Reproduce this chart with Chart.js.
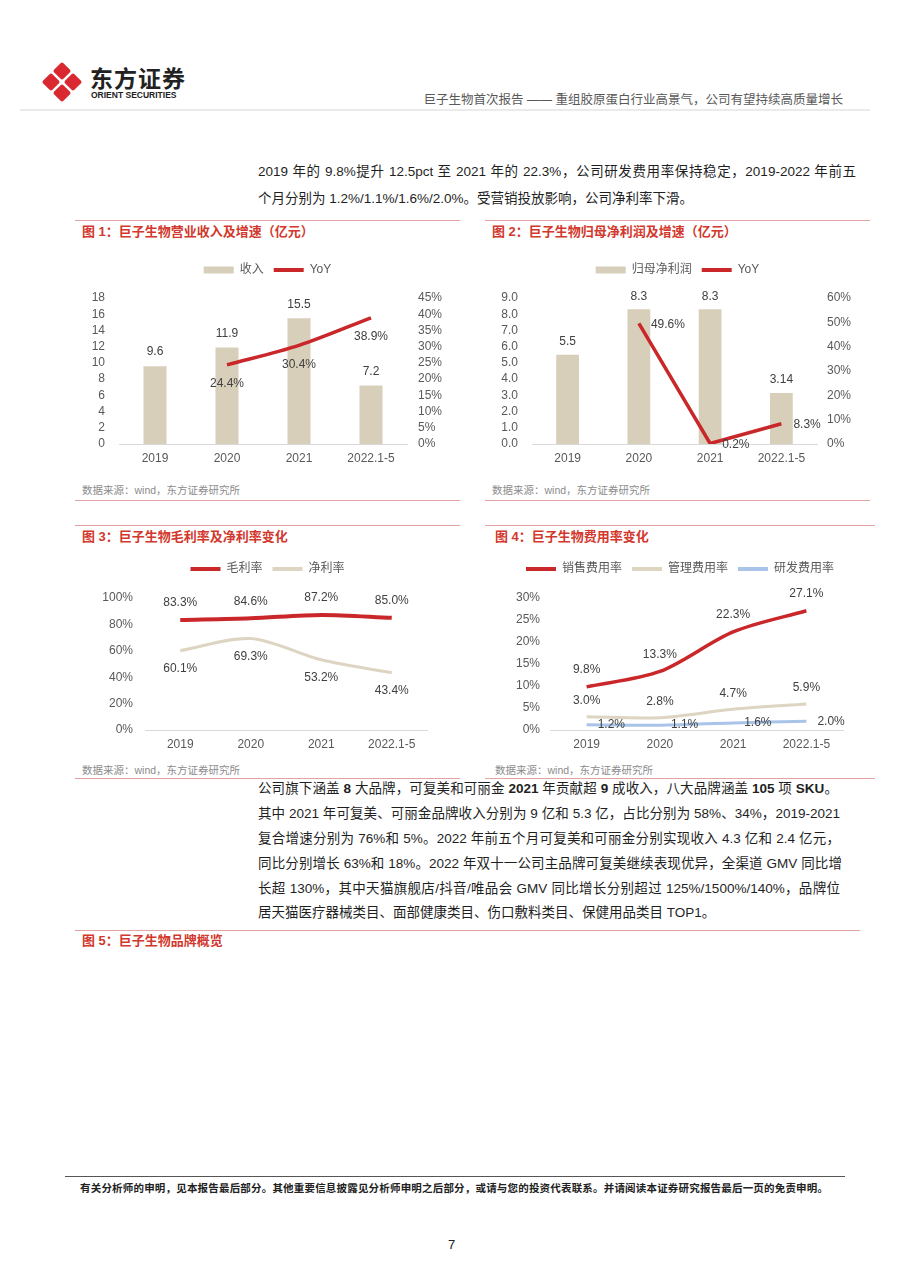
<!DOCTYPE html>
<html lang="zh-CN">
<head>
<meta charset="utf-8">
<title>巨子生物首次报告</title>
<script src="https://cdn.jsdelivr.net/npm/chart.js@4.4.1/dist/chart.umd.min.js"></script>
<style>
  html, body { margin: 0; padding: 0; background: #fff; }
  #page { position: relative; width: 905px; height: 1280px; overflow: hidden; background: #fff;
          font-family: "Liberation Sans", Arial, "Noto Sans CJK SC", sans-serif; color: #1f1f1f; }
  .abs { position: absolute; white-space: nowrap; }
  .rule { position: absolute; height: 1px; background: #e2a3a3; }
  .fig-title { position: absolute; font-size: 13px; font-weight: bold; color: #d2382d; line-height: 20px;
               font-family: "Liberation Sans", "Noto Sans CJK SC", sans-serif; white-space: nowrap; }
  .source { position: absolute; font-size: 10.5px; color: #8c8c8c; line-height: 20px; white-space: nowrap; }
  .line { position: absolute; left: 258px; font-size: 13.5px; line-height: 20px; height: 20px; color: #1f1f1f; }
  .just { text-align: justify; text-align-last: justify; }
  .chart-box { position: absolute; }
</style>
</head>
<body>
<div id="page">
  <!-- header -->
  <svg class="abs" style="left:42px;top:62px" width="40" height="40" viewBox="0 0 40 40">
    <g fill="#d9282f">
      <rect x="13.5" y="2.5" width="13" height="13" rx="2" transform="rotate(45 20 9)"/>
      <rect x="2.5" y="13.5" width="13" height="13" rx="2" transform="rotate(45 9 20)"/>
      <rect x="24.5" y="13.5" width="13" height="13" rx="2" transform="rotate(45 31 20)"/>
      <rect x="13.5" y="24.5" width="13" height="13" rx="2" transform="rotate(45 20 31)"/>
    </g>
  </svg>
  <div class="abs" style="left:90px;top:62px;font-size:23px;font-weight:bold;letter-spacing:1px;color:#222;font-family:'Noto Sans CJK SC',sans-serif;line-height:30px">东方证券</div>
  <div class="abs" style="left:91px;top:89px;font-size:8.5px;font-weight:bold;color:#222;line-height:12px">ORIENT SECURITIES</div>
  <div class="abs" style="right:62px;top:90px;font-size:12.5px;color:#595959;line-height:20px">巨子生物首次报告 —— 重组胶原蛋白行业高景气，公司有望持续高质量增长</div>
  <div class="abs" style="left:20px;top:109px;width:850px;height:1.5px;background:#ebebeb"></div>

  <!-- paragraph 1 -->
  <div class="line just" style="top:162px;width:598px">2019 年的 9.8%提升 12.5pct 至 2021 年的 22.3%，公司研发费用率保持稳定，2019-2022 年前五</div>
  <div class="line" style="top:189px;white-space:nowrap">个月分别为 1.2%/1.1%/1.6%/2.0%。受营销投放影响，公司净利率下滑。</div>

  <!-- figure 1 & 2 frame -->
  <div class="rule" style="left:75px;top:220px;width:385px"></div>
  <div class="rule" style="left:485px;top:220px;width:385px"></div>
  <div class="fig-title" style="left:82px;top:222px">图 1：巨子生物营业收入及增速（亿元）</div>
  <div class="fig-title" style="left:492px;top:222px">图 2：巨子生物归母净利润及增速（亿元）</div>
  <div class="chart-box" style="left:75px;top:254px;width:385px;height:218px"><canvas id="c1"></canvas></div>
  <div class="chart-box" style="left:485px;top:254px;width:385px;height:218px"><canvas id="c2"></canvas></div>
  <div class="source" style="left:82px;top:480px">数据来源：wind，东方证券研究所</div>
  <div class="source" style="left:492px;top:480px">数据来源：wind，东方证券研究所</div>
  <div class="rule" style="left:75px;top:500px;width:385px"></div>
  <div class="rule" style="left:485px;top:500px;width:385px"></div>

  <!-- figure 3 & 4 frame -->
  <div class="rule" style="left:75px;top:525px;width:385px"></div>
  <div class="rule" style="left:485px;top:525px;width:390px"></div>
  <div class="fig-title" style="left:82px;top:527px">图 3：巨子生物毛利率及净利率变化</div>
  <div class="fig-title" style="left:495px;top:527px">图 4：巨子生物费用率变化</div>
  <div class="chart-box" style="left:75px;top:553px;width:385px;height:207px"><canvas id="c3"></canvas></div>
  <div class="chart-box" style="left:485px;top:553px;width:390px;height:207px"><canvas id="c4"></canvas></div>
  <div class="source" style="left:82px;top:760px">数据来源：wind，东方证券研究所</div>
  <div class="source" style="left:495px;top:760px">数据来源：wind，东方证券研究所</div>
  <div class="rule" style="left:75px;top:778px;width:385px"></div>
  <div class="rule" style="left:485px;top:778px;width:390px"></div>

  <!-- paragraph 2 -->
  <div class="line just" style="top:779px;width:580px">公司旗下涵盖 <b>8</b> 大品牌，可复美和可丽金 <b>2021</b> 年贡献超 <b>9</b> 成收入，八大品牌涵盖 <b>105</b> 项 <b>SKU</b>。</div>
  <div class="line just" style="top:804px;width:582px">其中 2021 年可复美、可丽金品牌收入分别为 9 亿和 5.3 亿，占比分别为 58%、34%，2019-2021</div>
  <div class="line just" style="top:829px;width:582px">复合增速分别为 76%和 5%。2022 年前五个月可复美和可丽金分别实现收入 4.3 亿和 2.4 亿元，</div>
  <div class="line just" style="top:854px;width:584px">同比分别增长 63%和 18%。2022 年双十一公司主品牌可复美继续表现优异，全渠道 GMV 同比增</div>
  <div class="line just" style="top:879px;width:582px">长超 130%，其中天猫旗舰店/抖音/唯品会 GMV 同比增长分别超过 125%/1500%/140%，品牌位</div>
  <div class="line" style="top:903px;white-space:nowrap">居天猫医疗器械类目、面部健康类目、伤口敷料类目、保健用品类目 TOP1。</div>
  <div class="rule" style="left:75px;top:930px;width:785px"></div>
  <div class="fig-title" style="left:82px;top:931px">图 5：巨子生物品牌概览</div>

  <!-- footer -->
  <div class="abs" style="left:65px;top:1176px;width:780px;height:1px;background:#555"></div>
  <div class="abs just" style="left:80px;top:1179px;width:748px;font-size:10.5px;font-weight:bold;line-height:18px;color:#222;white-space:normal;height:18px">有关分析师的申明，见本报告最后部分。其他重要信息披露见分析师申明之后部分，或请与您的投资代表联系。并请阅读本证券研究报告最后一页的免责申明。</div>
  <div class="abs" style="left:448px;top:1236px;font-size:13px;line-height:18px;color:#222">7</div>
</div>

<script>
// ----- data -----
const years = ["2019", "2020", "2021", "2022.1-5"];

const revenue = [9.6, 11.9, 15.5, 7.2];          // 亿元
const revenueYoY = [null, 24.4, 30.4, 38.9];     // %
const netProfit = [5.5, 8.3, 8.3, 3.14];         // 亿元
const netProfitYoY = [null, 49.6, 0.2, 8.3];     // %
const grossMargin = [83.3, 84.6, 87.2, 85.0];
const netMargin = [60.1, 69.3, 53.2, 43.4];
const sellingRate = [9.8, 13.3, 22.3, 27.1];
const adminRate = [3.0, 2.8, 4.7, 5.9];
const rdRate = [1.2, 1.1, 1.6, 2.0];

// axis ranges: [min, max, step]
const revenueAxis = [0, 18, 2];
const revenueYoYAxis = [0, 45, 5];
const profitAxis = [0, 9, 1];
const profitYoYAxis = [0, 60, 10];
const marginAxis = [0, 100, 20];
const expenseAxis = [0, 30, 5];

// ----- styling -----
const FONT = '"Liberation Sans", Arial, "Noto Sans CJK SC", sans-serif';
const RED = "#c9272a";
const BEIGE = "#d8cfba";
const BEIGE_LINE = "#ddd5c2";
const BLUE = "#a9c4e8";

Chart.defaults.font.family = FONT;
Chart.defaults.font.size = 12;
Chart.defaults.color = "#595959";
Chart.defaults.animation = false;

const fmtNum = v => String(v);
const fmtPct = v => v.toFixed(1) + "%";
const tickPct = v => v + "%";

// value labels placed from each element's own position
const valueLabels = {
  id: "valueLabels",
  afterDatasetsDraw(chart) {
    const ctx = chart.ctx;
    chart.data.datasets.forEach((ds, i) => {
      const opt = ds.valueLabel;
      if (!opt) return;
      ctx.save();
      ctx.font = "12px " + FONT;
      ctx.fillStyle = "#404040";
      ctx.textAlign = opt.align || "center";
      ctx.textBaseline = "middle";
      chart.getDatasetMeta(i).data.forEach((el, j) => {
        const v = ds.data[j];
        if (v == null) return;
        ctx.fillText(opt.fmt(v), el.x + (opt.dx || 0), el.y + (opt.dy || 0));
      });
      ctx.restore();
    });
  }
};

// legend keeps a fixed height so the plot starts where the original does
const fixedLegend = {
  id: "fixedLegend",
  beforeInit(chart, args, opts) {
    const legend = chart.legend;
    const fit = legend.fit;
    legend.fit = function () { fit.call(this); this.height = opts.height; };
  }
};

function legendItems(chart) {
  return chart.data.datasets.map((ds, i) => ({
    text: ds.label,
    fillStyle: ds.backgroundColor,
    strokeStyle: ds.borderColor,
    lineWidth: ds.type === "bar" ? 0 : 4,
    pointStyle: ds.type === "bar" ? "rect" : "line",
    fontColor: "#595959",
    hidden: false,
    datasetIndex: i
  }));
}

function yAxis(position, range, width, pad, fmt) {
  const [min, max, step] = range;
  return {
    type: "linear", position, min, max,
    grid: { display: false, drawTicks: false },
    border: { display: false },
    ticks: { stepSize: step, padding: pad, autoSkip: false, color: "#595959", callback: fmt },
    afterFit: s => { s.width = width; }
  };
}

function drawChart(id, type, datasets, box, left, right) {
  const scales = {
    x: {
      offset: true,
      grid: { display: false, drawTicks: false },
      border: { display: true, color: "#d9d9d9", width: 1 },
      ticks: { padding: 7, color: "#595959" },
      afterFit: s => { s.height = box.xH; }
    },
    y: left
  };
  if (right) scales.y2 = right;
  else scales.pad = {
    type: "linear", position: "right",
    grid: { display: false, drawTicks: false }, border: { display: false }, ticks: { display: false },
    afterFit: s => { s.width = box.padW; }
  };

  return new Chart(document.getElementById(id), {
    type,
    data: { labels: years, datasets },
    options: {
      responsive: true,
      maintainAspectRatio: false,
      layout: { padding: 0 },
      plugins: {
        legend: {
          position: "top",
          labels: {
            usePointStyle: true, pointStyleWidth: 30, boxHeight: 7, padding: 10,
            color: "#595959", font: { size: 12 }, generateLabels: legendItems
          }
        },
        tooltip: { enabled: false },
        fixedLegend: { height: box.legendH }
      },
      scales
    },
    plugins: [fixedLegend, valueLabels]
  });
}

// 图1 营业收入及增速
drawChart("c1", "bar", [
  { type: "bar", label: "收入", data: revenue, backgroundColor: BEIGE, borderColor: BEIGE,
    barPercentage: 0.32, categoryPercentage: 1, order: 2, yAxisID: "y",
    valueLabel: { dy: -14, fmt: fmtNum } },
  { type: "line", label: "YoY", data: revenueYoY, borderColor: RED, backgroundColor: RED,
    borderWidth: 3.5, pointRadius: 0, tension: 0.3, order: 1, yAxisID: "y2",
    valueLabel: { dy: 19, fmt: fmtPct } }
], { legendH: 44, xH: 28 },
  yAxis("left", revenueAxis, 44, 14, v => v),
  yAxis("right", revenueYoYAxis, 53, 11, tickPct));

// 图2 归母净利润及增速
drawChart("c2", "bar", [
  { type: "bar", label: "归母净利润", data: netProfit, backgroundColor: BEIGE, borderColor: BEIGE,
    barPercentage: 0.32, categoryPercentage: 1, order: 2, yAxisID: "y",
    valueLabel: { dy: -13, fmt: fmtNum } },
  { type: "line", label: "YoY", data: netProfitYoY, borderColor: RED, backgroundColor: RED,
    borderWidth: 3.5, pointRadius: 0, tension: 0, order: 1, yAxisID: "y2",
    valueLabel: { dx: 12, dy: 1, align: "left", fmt: fmtPct } }
], { legendH: 44, xH: 28 },
  yAxis("left", profitAxis, 47, 14, v => v.toFixed(1)),
  yAxis("right", profitYoYAxis, 53, 10, tickPct));

// 图3 毛利率及净利率
drawChart("c3", "line", [
  { label: "毛利率", data: grossMargin, borderColor: RED, backgroundColor: RED,
    borderWidth: 4, pointRadius: 0, tension: 0.3, valueLabel: { dy: -17, fmt: fmtPct } },
  { label: "净利率", data: netMargin, borderColor: BEIGE_LINE, backgroundColor: BEIGE_LINE,
    borderWidth: 3, pointRadius: 0, tension: 0.3, valueLabel: { dy: 18, fmt: fmtPct } }
], { legendH: 45, xH: 30, padW: 33 },
  yAxis("left", marginAxis, 70, 12, tickPct));

// 图4 费用率
drawChart("c4", "line", [
  { label: "销售费用率", data: sellingRate, borderColor: RED, backgroundColor: RED,
    borderWidth: 3.5, pointRadius: 0, tension: 0.3, valueLabel: { dy: -17, fmt: fmtPct } },
  { label: "管理费用率", data: adminRate, borderColor: BEIGE_LINE, backgroundColor: BEIGE_LINE,
    borderWidth: 3, pointRadius: 0, tension: 0.3, valueLabel: { dy: -16, fmt: fmtPct } },
  { label: "研发费用率", data: rdRate, borderColor: BLUE, backgroundColor: BLUE,
    borderWidth: 3, pointRadius: 0, tension: 0.3, valueLabel: { dx: 11, dy: 0, align: "left", fmt: fmtPct } }
], { legendH: 45, xH: 30, padW: 32 },
  yAxis("left", expenseAxis, 65, 10, tickPct));
</script>
</body>
</html>
